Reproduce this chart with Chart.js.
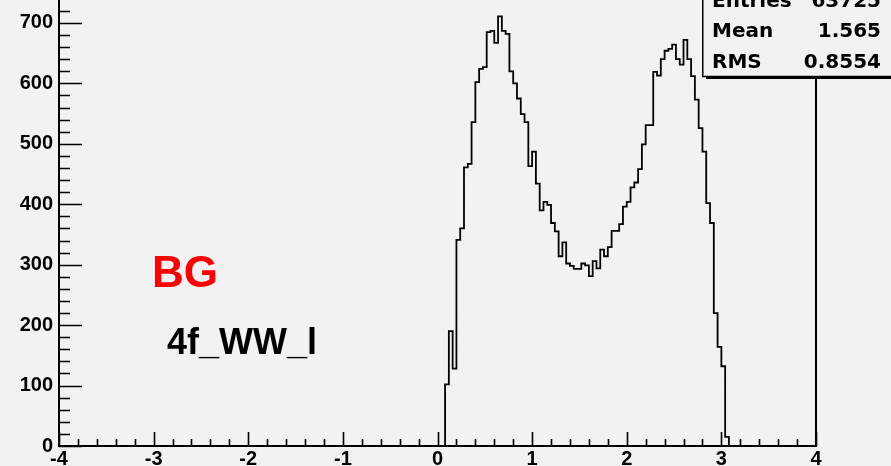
<!DOCTYPE html>
<html>
<head>
<meta charset="UTF-8">
<title>4f_WW_l</title>
<script src="https://cdn.jsdelivr.net/npm/chart.js"></script>
<style>
  html, body { margin: 0; padding: 0; background: #f2f2f2; overflow: hidden; }
</style>
</head>
<body>
<canvas id="histChart" width="891" height="466"></canvas>
<script>
// histogram, 200 bins on [-4, 4]; only the filled bins are listed (first one starts at 0.08)
const binStart = 0.08;
const binWidth = 0.04;
const binCounts = [
  102, 190, 128, 341, 360, 461, 467, 536, 602, 624,
  627, 685, 687, 667, 711, 687, 682, 620, 600, 575,
  549, 536, 463, 487, 434, 390, 404, 399, 369, 355,
  314, 337, 302, 298, 293, 293, 302, 299, 281, 306,
  294, 325, 314, 329, 356, 356, 367, 396, 404, 428,
  436, 458, 499, 531, 531, 619, 613, 640, 654, 657,
  664, 640, 631, 672, 640, 612, 573, 526, 487, 402,
  369, 220, 164, 132, 15
];

const xRange = [-4, 4];
const yRange = [0, 738];
const xMajorTicks = [-4, -3, -2, -1, 0, 1, 2, 3, 4];
const yMajorTicks = [0, 100, 200, 300, 400, 500, 600, 700];
const xMinorStep = 0.2;
const yMinorStep = 20;

const statLabels = ['Entries', 'Mean', 'RMS'];
const statValues = ['63725', '1.565', '0.8554'];

const bgText = 'BG';
const sampleText = '4f_WW_l';

// outline points for a stepped line
const points = [{ x: binStart, y: 0 }];
binCounts.forEach((c, i) => points.push({ x: +(binStart + i * binWidth).toFixed(2), y: c }));
points.push({ x: +(binStart + binCounts.length * binWidth).toFixed(2), y: 0 });

const tickFont = { family: 'Liberation Sans', weight: 'bold', size: 20 };

const rootStyle = {
    id: 'rootStyle',
    beforeDraw(chart) {
        const ctx = chart.ctx;
        ctx.save();
        ctx.fillStyle = '#f2f2f2';
        ctx.fillRect(0, 0, chart.width, chart.height);
        ctx.restore();
    },
    afterDatasetsDraw(chart) {
        const ctx = chart.ctx;
        const xs = chart.scales.x, ys = chart.scales.y;
        const a = chart.chartArea;
        ctx.save();
        ctx.strokeStyle = '#000';
        ctx.lineWidth = 1.6;
        ctx.beginPath();
        // ticks point into the frame, like ROOT
        const nx = Math.round((xRange[1] - xRange[0]) / xMinorStep);
        for (let k = 0; k <= nx; k++) {
            const px = Math.round(xs.getPixelForValue(xRange[0] + k * xMinorStep)) + 0.5;
            const len = k % 5 === 0 ? 14 : 7;
            ctx.moveTo(px, a.bottom);
            ctx.lineTo(px, a.bottom - len);
        }
        for (let v = yRange[0]; v <= yRange[1]; v += yMinorStep) {
            const py = Math.round(ys.getPixelForValue(v)) + 0.5;
            const len = v % 100 === 0 ? 23 : 11;
            ctx.moveTo(a.left, py);
            ctx.lineTo(a.left + len, py);
        }
        ctx.stroke();

        // labels
        ctx.textBaseline = 'alphabetic';
        ctx.fillStyle = '#ff0000';
        ctx.font = 'bold 44px "Liberation Sans"';
        ctx.fillText(bgText, 152, 287);
        ctx.fillStyle = '#000';
        ctx.font = 'bold 36px "Liberation Sans"';
        ctx.fillText(sampleText, 167, 354);
        ctx.restore();
    },
    afterDraw(chart) {
        const ctx = chart.ctx;
        ctx.save();
        // stats box (top is outside the picture)
        ctx.fillStyle = '#f2f2f2';
        ctx.fillRect(703, -10, 200, 86);
        ctx.strokeStyle = '#000';
        ctx.lineWidth = 1.5;
        ctx.strokeRect(702.75, -10, 200, 86.5);
        ctx.fillStyle = '#000';
        ctx.fillRect(706, 76, 190, 3);
        ctx.font = 'bold 20px "DejaVu Sans"';
        ctx.textBaseline = 'alphabetic';
        statLabels.forEach((lab, i) => {
            const y = 6.5 + i * 30.9;
            ctx.textAlign = 'left';
            ctx.fillText(lab, 712, y);
            ctx.textAlign = 'right';
            ctx.fillText(statValues[i], 881, y);
        });
        ctx.restore();
    }
};

new Chart(document.getElementById('histChart'), {
    type: 'line',
    data: {
        datasets: [{
            data: points,
            stepped: true,
            borderColor: '#000',
            borderWidth: 1.8,
            pointRadius: 0,
            fill: false,
            tension: 0
        }]
    },
    options: {
        responsive: false,
        animation: false,
        devicePixelRatio: 1,
        layout: { padding: { left: 0, right: 75, top: 0, bottom: 0 } },
        plugins: { legend: { display: false }, tooltip: { enabled: false } },
        scales: {
            x: {
                type: 'linear',
                min: xRange[0],
                max: xRange[1],
                afterBuildTicks: s => { s.ticks = xMajorTicks.map(v => ({ value: v })); },
                afterFit: s => { s.height = 20; s.paddingLeft = 0; s.paddingRight = 0; },
                grid: { display: false, drawTicks: false },
                border: { color: '#000', width: 2 },
                ticks: { font: tickFont, color: '#000', padding: 1, maxRotation: 0, autoSkip: false }
            },
            y: {
                min: yRange[0],
                max: yRange[1],
                afterBuildTicks: s => { s.ticks = yMajorTicks.map(v => ({ value: v })); },
                afterFit: s => { s.width = 59; s.paddingTop = 0; s.paddingBottom = 0; },
                grid: { display: false, drawTicks: false },
                border: { color: '#000', width: 2 },
                ticks: { font: tickFont, color: '#000', padding: 6, autoSkip: false }
            },
            yRight: {
                position: 'right',
                min: yRange[0],
                max: yRange[1],
                afterFit: s => { s.width = 0; s.paddingTop = 0; s.paddingBottom = 0; },
                grid: { display: false, drawTicks: false },
                border: { color: '#000', width: 2 },
                ticks: { display: false }
            }
        }
    },
    plugins: [rootStyle]
});
</script>
</body>
</html>
